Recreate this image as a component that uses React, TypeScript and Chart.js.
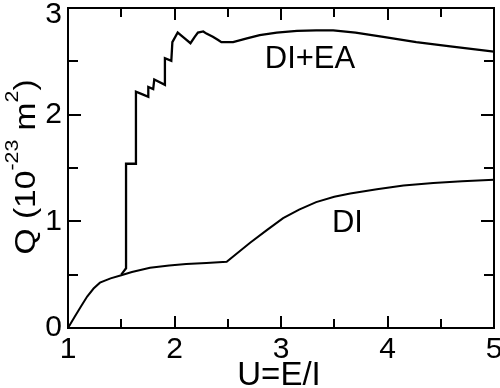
import React, { useEffect, useRef } from 'react';
import { Chart, registerables } from 'chart.js';

Chart.register(...registerables);

// DI curve
const diU = [1.0, 1.06, 1.12, 1.18, 1.24, 1.30, 1.40, 1.50, 1.60, 1.77, 1.95, 2.11, 2.30, 2.49, 2.60, 2.71, 2.87, 3.02, 3.17, 3.33, 3.50, 3.65, 3.90, 4.15, 4.43, 4.70, 5.0];
const diQ = [0.0, 0.10, 0.20, 0.295, 0.37, 0.425, 0.465, 0.495, 0.525, 0.565, 0.585, 0.60, 0.61, 0.62, 0.71, 0.80, 0.92, 1.03, 1.11, 1.18, 1.23, 1.26, 1.30, 1.335, 1.36, 1.375, 1.39];

// DI+EA curve
const eaU = [1.50, 1.53, 1.545, 1.545, 1.638, 1.638, 1.70, 1.754, 1.754, 1.80, 1.81, 1.91, 1.91, 1.97, 1.98, 2.03, 2.09, 2.15, 2.19, 2.22, 2.27, 2.30, 2.36, 2.41, 2.44, 2.55, 2.68, 2.80, 2.96, 3.15, 3.33, 3.49, 3.70, 3.96, 4.27, 4.59, 5.0];
const eaQ = [0.50, 0.54, 0.56, 1.54, 1.54, 2.215, 2.19, 2.168, 2.26, 2.24, 2.33, 2.28, 2.53, 2.505, 2.68, 2.77, 2.72, 2.67, 2.73, 2.77, 2.78, 2.76, 2.73, 2.70, 2.68, 2.68, 2.715, 2.745, 2.77, 2.785, 2.79, 2.79, 2.77, 2.73, 2.68, 2.64, 2.59];

const xMajor = [1, 2, 3, 4, 5];
const xMinor = [1.5, 2.5, 3.5, 4.5];
const yMajor = [0, 1, 2, 3];
const yMinor = [0.5, 1.5, 2.5];

const labelEA = 'DI+EA';
const labelEAPos = [3.272, 2.4375];
const labelDI = 'DI';
const labelDIPos = [3.624, 0.90];
const xTitle = 'U=E/I';

const FONT = '"Liberation Sans", Arial, Helvetica, sans-serif';

const framePlugin = {
  id: 'frameTicks',
  afterDraw(chart: any) {
    const { ctx, chartArea: a, scales } = chart;
    const x = scales.x;
    const y = scales.y;
    ctx.save();
    ctx.strokeStyle = '#000';
    ctx.fillStyle = '#000';
    ctx.lineWidth = 2;
    ctx.strokeRect(a.left, a.top, a.right - a.left, a.bottom - a.top);
    ctx.beginPath();
    const xs = [...xMajor.map((v) => [v, 12]), ...xMinor.map((v) => [v, 9])];
    xs.forEach(([v, len]) => {
      const px = Math.round(x.getPixelForValue(v));
      ctx.moveTo(px, a.bottom);
      ctx.lineTo(px, a.bottom - len);
      ctx.moveTo(px, a.top);
      ctx.lineTo(px, a.top + len);
    });
    const ys = [...yMajor.map((v) => [v, 13]), ...yMinor.map((v) => [v, 10])];
    ys.forEach(([v, len]) => {
      const py = Math.round(y.getPixelForValue(v));
      ctx.moveTo(a.left, py);
      ctx.lineTo(a.left + len, py);
      ctx.moveTo(a.right, py);
      ctx.lineTo(a.right - len, py);
    });
    ctx.stroke();

    // y tick labels (top one kept inside the canvas)
    ctx.font = '30px ' + FONT;
    ctx.textAlign = 'right';
    ctx.textBaseline = 'middle';
    y.ticks.forEach((t: any) => {
      const py = Math.max(y.getPixelForValue(t.value), 15);
      ctx.fillText(String(t.value), a.left - 6, py);
    });

    // annotations
    ctx.textAlign = 'center';
    ctx.textBaseline = 'alphabetic';
    ctx.font = '31px ' + FONT;
    ctx.fillText(labelEA, x.getPixelForValue(labelEAPos[0]), y.getPixelForValue(labelEAPos[1]));
    ctx.fillText(labelDI, x.getPixelForValue(labelDIPos[0]), y.getPixelForValue(labelDIPos[1]));

    // x title
    ctx.font = '33px ' + FONT;
    ctx.fillText(xTitle, (a.left + a.right) / 2 - 2, chart.height - 3);

    // y title with superscripts
    const main = '30px ' + FONT;
    const sup = '19px ' + FONT;
    const parts: [string, boolean][] = [
      ['Q (10', false],
      ['-23', true],
      [' m', false],
      ['2', true],
      [')', false],
    ];
    let total = 0;
    const widths = parts.map(([t, s]) => {
      ctx.font = s ? sup : main;
      const w = ctx.measureText(t).width;
      total += w;
      return w;
    });
    ctx.translate(35, (a.top + a.bottom) / 2 - 1);
    ctx.rotate(-Math.PI / 2);
    ctx.scale(1.12, 1);
    ctx.textAlign = 'left';
    let cx = -total / 2;
    parts.forEach(([t, s], i) => {
      ctx.font = s ? sup : main;
      ctx.fillText(t, cx, s ? -17 : 0);
      cx += widths[i];
    });
    ctx.restore();
  },
};

export default function App() {
  const ref = useRef<HTMLCanvasElement | null>(null);
  useEffect(() => {
    if (!ref.current) return;
    const chart = new Chart(ref.current, {
      type: 'scatter',
      data: {
        datasets: [
          {
            label: labelDI,
            data: diU.map((u, i) => ({ x: u, y: diQ[i] })),
            showLine: true,
            borderColor: '#000',
            borderWidth: 2,
            pointRadius: 0,
            tension: 0,
          },
          {
            label: labelEA,
            data: eaU.map((u, i) => ({ x: u, y: eaQ[i] })),
            showLine: true,
            borderColor: '#000',
            borderWidth: 2.3,
            pointRadius: 0,
            tension: 0,
          },
        ],
      },
      options: {
        responsive: false,
        animation: false,
        devicePixelRatio: 1,
        layout: { padding: { left: 0, right: 6, top: 8, bottom: 0 } },
        plugins: { legend: { display: false }, tooltip: { enabled: false } },
        scales: {
          x: {
            type: 'linear',
            min: 1,
            max: 5,
            grid: { display: false },
            border: { display: false },
            ticks: {
              stepSize: 1,
              maxRotation: 0,
              autoSkip: false,
              padding: -4,
              color: '#000',
              font: { family: FONT, size: 30 },
            },
            afterFit: (s: any) => {
              s.height = 60;
              s.paddingLeft = 0;
              s.paddingRight = 0;
            },
          },
          y: {
            type: 'linear',
            min: 0,
            max: 3,
            grid: { display: false },
            border: { display: false },
            ticks: {
              stepSize: 1,
              display: false,
            },
            afterFit: (s: any) => {
              s.width = 68;
              s.paddingTop = 0;
              s.paddingBottom = 0;
            },
          },
        },
      },
      plugins: [framePlugin],
    });
    return () => chart.destroy();
  }, []);
  return (
    <div style={{ position: 'absolute', left: 0, top: 0, width: 500, height: 388, background: '#fff' }}>
      <canvas ref={ref} width={500} height={388} style={{ display: 'block' }} />
    </div>
  );
}
